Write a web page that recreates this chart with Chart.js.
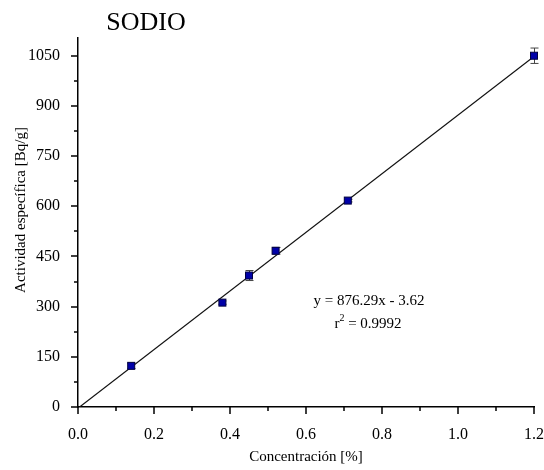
<!DOCTYPE html>
<html>
<head>
<meta charset="utf-8">
<script src="https://cdn.jsdelivr.net/npm/chart.js@4"></script>
<style>
  html, body { margin: 0; padding: 0; background: #fff; }
  #wrap { width: 544px; height: 470px; }
</style>
</head>
<body>
<div id="wrap"><canvas id="chart" width="544" height="470"></canvas></div>
<script>
// measured points (concentration %, specific activity Bq/g, error)
const concentration = [0.14, 0.38, 0.45, 0.52, 0.71, 1.2];
const activity = [123, 312, 393, 467, 617, 1050];
const activityErr = [8, 5, 15, 10, 4, 23];

// linear fit
const fitSlope = 876.29;
const fitIntercept = -3.62;
const fitRange = [0, 1.2];

const yMajorTicks = [0, 150, 300, 450, 600, 750, 900, 1050];
const xMajorTicks = [0.0, 0.2, 0.4, 0.6, 0.8, 1.0, 1.2];

const FONT = 'Liberation Serif, Times New Roman, serif';

// error bars, minor/major ticks, title and fit text
const extrasPlugin = {
  id: 'extras',
  afterDatasetsDraw(chart) {
    const ctx = chart.ctx;
    const xs = chart.scales.x, ys = chart.scales.y;
    ctx.save();
    // error bars
    ctx.strokeStyle = '#444';
    ctx.lineWidth = 1;
    concentration.forEach((c, i) => {
      const px = Math.round(xs.getPixelForValue(c)) + 0.5;
      const top = ys.getPixelForValue(activity[i] + activityErr[i]);
      const bot = ys.getPixelForValue(activity[i] - activityErr[i]);
      ctx.beginPath();
      ctx.moveTo(px, top); ctx.lineTo(px, bot);
      ctx.moveTo(px - 4, top); ctx.lineTo(px + 4, top);
      ctx.moveTo(px - 4, bot); ctx.lineTo(px + 4, bot);
      ctx.stroke();
    });
    // markers on top of error bars
    const meta = chart.getDatasetMeta(1);
    meta.data.forEach(p => {
      ctx.fillStyle = '#0000a8';
      ctx.strokeStyle = '#000040';
      ctx.fillRect(p.x - 3.5, p.y - 3.5, 7, 7);
      ctx.strokeRect(p.x - 3.5, p.y - 3.5, 7, 7);
    });
    ctx.restore();
  },
  afterDraw(chart) {
    const ctx = chart.ctx;
    const xs = chart.scales.x, ys = chart.scales.y;
    const area = chart.chartArea;
    ctx.save();
    ctx.strokeStyle = '#000';
    ctx.lineWidth = 1.5;
    ctx.beginPath();
    // y ticks
    for (let v = 0; v <= 1050; v += 75) {
      const py = Math.round(ys.getPixelForValue(v));
      const len = v % 150 === 0 ? 7 : 4;
      ctx.moveTo(area.left, py); ctx.lineTo(area.left - len, py);
    }
    // x ticks
    for (let k = 0; k <= 12; k++) {
      const px = Math.round(xs.getPixelForValue(k / 10));
      const len = k % 2 === 0 ? 7 : 4;
      ctx.moveTo(px, area.bottom); ctx.lineTo(px, area.bottom + len);
    }
    ctx.stroke();

    ctx.fillStyle = '#000';
    ctx.font = '26px ' + FONT;
    ctx.textAlign = 'center';
    ctx.textBaseline = 'alphabetic';
    ctx.fillText('SODIO', 146, 30);

    // y axis title
    ctx.save();
    ctx.translate(21, 210);
    ctx.rotate(-Math.PI / 2);
    ctx.font = '15px ' + FONT;
    ctx.textBaseline = 'middle';
    ctx.fillText('Actividad específica [Bq/g]', 0, 0);
    ctx.restore();

    ctx.font = '15px ' + FONT;
    ctx.fillText('y = ' + fitSlope.toFixed(2) + 'x - ' + Math.abs(fitIntercept).toFixed(2), 369, 305);
    // r^2 line
    const rText = ' = 0.9992';
    const rw = ctx.measureText('r').width;
    ctx.font = '10px ' + FONT;
    const sw = ctx.measureText('2').width;
    ctx.font = '15px ' + FONT;
    const tw = ctx.measureText(rText).width;
    let sx = 368 - (rw + sw + tw) / 2;
    ctx.textAlign = 'left';
    ctx.fillText('r', sx, 328);
    ctx.font = '10px ' + FONT;
    ctx.fillText('2', sx + rw, 321);
    ctx.font = '15px ' + FONT;
    ctx.fillText(rText, sx + rw + sw, 328);
    ctx.restore();
  }
};

const fitPoints = fitRange.map(x => ({ x, y: fitSlope * x + fitIntercept }));

new Chart(document.getElementById('chart'), {
  type: 'scatter',
  data: {
    datasets: [
      {
        type: 'line',
        data: fitPoints,
        borderColor: '#111',
        borderWidth: 1.2,
        pointRadius: 0,
        fill: false
      },
      {
        data: concentration.map((c, i) => ({ x: c, y: activity[i] })),
        pointStyle: 'rect',
        pointRadius: 0,
        backgroundColor: '#0000a8',
        borderColor: '#000040'
      }
    ]
  },
  plugins: [extrasPlugin],
  options: {
    responsive: false,
    animation: false,
    layout: { padding: { top: 38, right: 10, left: 0, bottom: 0 } },
    plugins: { legend: { display: false }, tooltip: { enabled: false } },
    scales: {
      x: {
        type: 'linear',
        min: 0,
        max: 1.2,
        afterBuildTicks: s => { s.ticks = xMajorTicks.map(v => ({ value: v })); },
        afterFit: s => { s.height = 63; s.paddingLeft = 0; s.paddingRight = 0; },
        grid: { display: false },
        border: { display: true, color: '#000', width: 1.5 },
        ticks: {
          padding: 10,
          color: '#000',
          font: { family: FONT, size: 16 },
          callback: v => v.toFixed(1)
        },
        title: {
          display: true,
          text: 'Concentración [%]',
          color: '#000',
          font: { family: FONT, size: 15 },
          padding: { top: 4 }
        }
      },
      y: {
        type: 'linear',
        min: 0,
        max: 1103,
        afterBuildTicks: s => { s.ticks = yMajorTicks.map(v => ({ value: v })); },
        afterFit: s => { s.width = 78; s.paddingTop = 0; s.paddingBottom = 0; },
        grid: { display: false },
        border: { display: true, color: '#000', width: 1.5 },
        ticks: {
          padding: 10,
          color: '#000',
          font: { family: FONT, size: 16 },
          callback: v => String(v)
        }
      }
    }
  }
});
</script>
</body>
</html>
